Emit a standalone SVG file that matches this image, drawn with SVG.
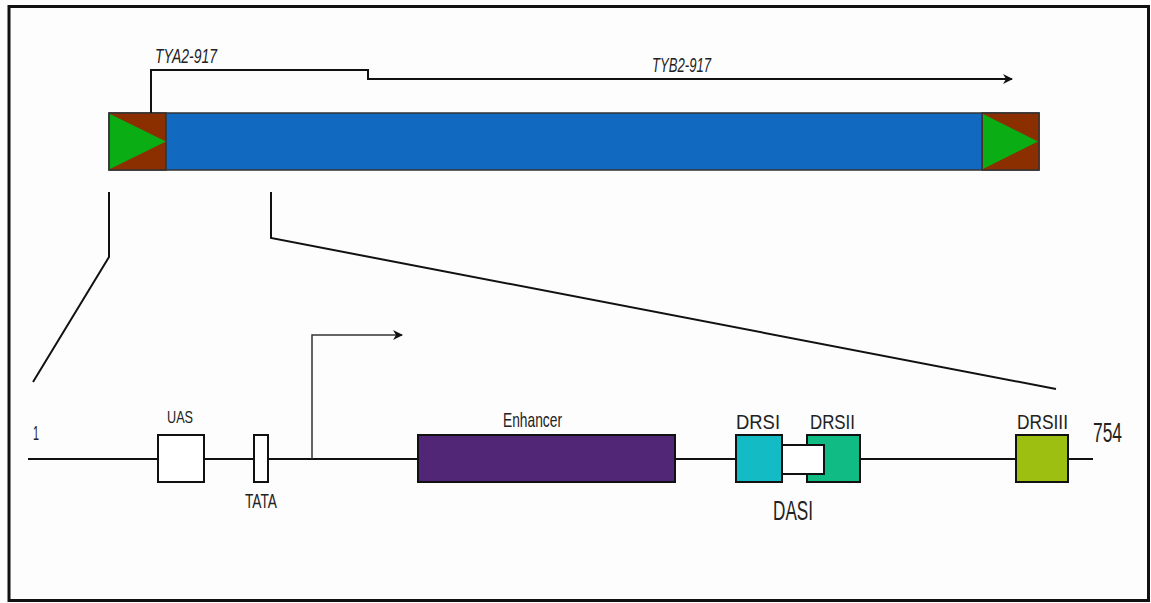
<svg xmlns="http://www.w3.org/2000/svg" width="1151" height="603" viewBox="0 0 1151 603">
  <defs>
    <marker id="arrow" viewBox="0 0 10 10" refX="9" refY="5" markerWidth="10" markerHeight="10" markerUnits="userSpaceOnUse" orient="auto">
      <path d="M0,0 L10,5 L0,10 L3,5 Z" fill="#111"/>
    </marker>
  </defs>
  <style>
    text { font-family: "Liberation Sans", Arial, sans-serif; fill: #222; }
    .it { font-style: italic; font-size: 21px; }
    .sm { font-size: 21px; }
    .md { font-size: 19.5px; }
    .lg { font-size: 28px; }
    .line { fill: none; stroke: #111; stroke-width: 2; }
    .box { stroke: #111; stroke-width: 2; }
  </style>

  <rect width="1151" height="603" fill="#fdfdfd"/>
  <rect x="9" y="6.5" width="1139.5" height="594" fill="none" stroke="#111" stroke-width="3"/>

  <!-- retrotransposon element -->
  <g id="element">
    <rect x="109" y="113" width="930" height="57" fill="#116ac0" stroke="#333" stroke-width="1.5"/>
    <rect x="109" y="113" width="57" height="57" fill="#8b2f00" stroke="#333" stroke-width="1.5"/>
    <polygon points="110,114 166,141.5 110,169" fill="#0aad14"/>
    <rect x="982" y="113" width="57" height="57" fill="#8b2f00" stroke="#333" stroke-width="1.5"/>
    <polygon points="983,114 1038,141.5 983,169" fill="#0aad14"/>
  </g>

  <g id="transcript-labels">
    <text class="it" x="155" y="63" textLength="62" lengthAdjust="spacingAndGlyphs">TYA2-917</text>
    <text class="it" x="652" y="72" textLength="59" lengthAdjust="spacingAndGlyphs">TYB2-917</text>
  </g>

  <!-- promoter region map -->
  <g id="promoter">
    <line x1="28" y1="459" x2="1093" y2="459" stroke="#111" stroke-width="2"/>
    <text class="sm" x="33" y="440" textLength="6" lengthAdjust="spacingAndGlyphs">1</text>
    <text class="lg" x="1093" y="442" textLength="29" lengthAdjust="spacingAndGlyphs">754</text>
  </g>

  <g id="uas">
    <rect class="box" x="158" y="435" width="46" height="47" fill="#fff"/>
    <text style="font-size:16.5px" x="167" y="423" textLength="26" lengthAdjust="spacingAndGlyphs">UAS</text>
  </g>
  <g id="tata">
    <rect class="box" x="254" y="435" width="14" height="47" fill="#fff"/>
    <text class="sm" x="245" y="508" textLength="32" lengthAdjust="spacingAndGlyphs">TATA</text>
  </g>
  <g id="enhancer">
    <rect class="box" x="418" y="435" width="257" height="47" fill="#512676"/>
    <text class="sm" x="503" y="427" textLength="59" lengthAdjust="spacingAndGlyphs">Enhancer</text>
  </g>
  <g id="drsi">
    <rect class="box" x="736" y="435" width="46" height="47" fill="#13bcc4"/>
    <text class="md" x="736" y="429" textLength="44" lengthAdjust="spacingAndGlyphs">DRSI</text>
  </g>
  <g id="drsii">
    <rect class="box" x="807" y="435" width="53" height="47" fill="#10bb84"/>
    <text class="md" x="810" y="429" textLength="45" lengthAdjust="spacingAndGlyphs">DRSII</text>
  </g>
  <g id="dasi">
    <rect class="box" x="782" y="445" width="42" height="29" fill="#fff"/>
    <text class="lg" x="773" y="520" textLength="40" lengthAdjust="spacingAndGlyphs">DASI</text>
  </g>
  <g id="drsiii">
    <rect class="box" x="1016" y="435" width="52" height="47" fill="#9dbf12"/>
    <text class="md" x="1017" y="429" textLength="51" lengthAdjust="spacingAndGlyphs">DRSIII</text>
  </g>

  <g id="connectors">
    <!-- transcription starts -->
    <path class="line" d="M151,113 V70 H368 V79 H1012" marker-end="url(#arrow)"/>
    <path d="M312,459 V335 H402" fill="none" stroke="#333" stroke-width="1.5" marker-end="url(#arrow)"/>
    <!-- zoom lines -->
    <path class="line" d="M109,192 V257 L33,382"/>
    <path class="line" d="M271,192 V238 L1056,389"/>
  </g>
</svg>
